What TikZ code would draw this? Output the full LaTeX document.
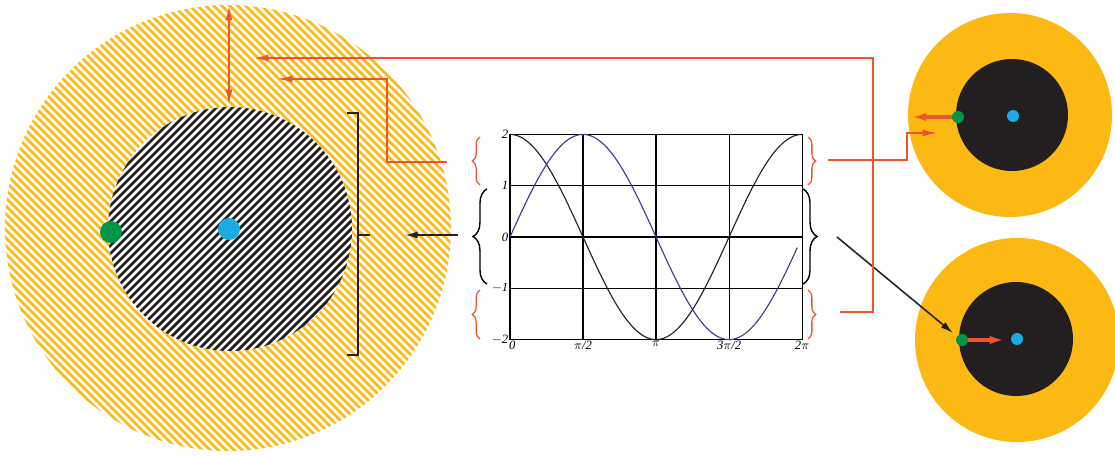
\documentclass[tikz,border=0pt]{standalone}
\usepackage{fontspec}
\setmainfont{Liberation Serif}
\usetikzlibrary{decorations, decorations.pathreplacing, arrows.meta}
\definecolor{ringyellow}{RGB}{252,184,19}
\definecolor{coreblack}{RGB}{35,31,32}
\definecolor{wirered}{RGB}{238,84,45}
\definecolor{dotblue}{RGB}{28,170,226}
\definecolor{dotgreen}{RGB}{0,150,72}
\definecolor{curveblue}{RGB}{55,60,150}
\tikzset{
    redwire/.style={wirered, line width=1.5pt, -{Latex[length=11pt,width=5pt]}},
    thickred/.style={wirered, line width=2.4pt, -{Latex[length=11pt,width=6pt]}},
    blackarrow/.style={coreblack, line width=1.1pt, -{Latex[length=9pt,width=5pt]}},
    gridline/.style={black, line width=0.8pt},
    bracered/.style={wirered, line width=0.9pt, decorate, decoration={brace, amplitude=5.5pt}},
    braceblack/.style={black, line width=1pt, decorate, decoration={brace, amplitude=10pt}},
    ticklabel/.style={font=\small\itshape, inner sep=1pt}
}
\begin{document}
\begin{tikzpicture}[x=0.025cm, y=-0.025cm]
    \useasboundingbox (0,0) rectangle (1115,455);

    % big striped disc
    \begin{scope}
        \clip (228,228) circle (223);
        \foreach \d in {-336,-328,...,336}
            \draw[ringyellow, line width=2pt] (\d-12,-12) -- (\d+468,468);
    \end{scope}
    \fill[white] (230,229) circle (122);
    \begin{scope}
        \clip (230,229) circle (122);
        \foreach \d in {-184,-176,...,184}
            \draw[coreblack, line width=2pt] (\d+100,360) -- (\d+360,100);
    \end{scope}
    \fill[dotgreen] (111,232) circle (11);
    \fill[dotblue] (229,229) circle (11);
    \coordinate (bigTop) at (229,5);
    \coordinate (coreTop) at (229,105);
    \draw[wirered, line width=1.5pt, {Latex[length=11pt,width=5pt]}-{Latex[length=11pt,width=5pt]}] (bigTop) -- (coreTop);
    \coordinate (ringA) at (253,58);
    \coordinate (ringB) at (277,79);

    % bracket beside the disc
    \draw[coreblack, line width=1pt] (347,113) -- (358,113) -- (358,355) -- (347,355);
    \draw[coreblack, line width=1pt] (358,235) -- (370,235);
    \coordinate (bracketTip) at (405,235);

    % the plot
    \begin{scope}[shift={(510,237)}, x=1.1618cm, y=1.2825cm]
        \draw[gridline] (0,-2) rectangle (2*pi,2);
        \foreach \i in {1,2,3}
            \draw[gridline] (\i*pi/2,-2) -- (\i*pi/2,2);
        \foreach \j in {-1,0,1}
            \draw[gridline] (0,\j) -- (2*pi,\j);
        \draw[coreblack, line width=0.8pt] plot[domain=0:2*pi, samples=90] (\x, {2*cos(\x r)});
        \draw[curveblue, line width=0.8pt] plot[domain=0:6.18, samples=90] (\x, {2*sin(\x r)});
        \foreach \v/\t in {2/2, 1/1, 0/0, -1/$-$1, -2/$-$2}
            \node[ticklabel, anchor=east] at (0,\v) {\t};
        \node[ticklabel, anchor=north] at (0.05,-2) {0};
        \node[ticklabel, anchor=north] at (pi/2,-2) {$\pi$/2};
        \node[ticklabel, anchor=north] at (pi,-2) {$\pi$};
        \node[ticklabel, anchor=north] at (3*pi/2,-2) {3$\pi$/2};
        \node[ticklabel, anchor=north] at (2*pi,-2) {2$\pi$};
    \end{scope}

    % braces on both sides of the plot
    \draw[bracered] (480,185) -- (480,137);
    \draw[bracered] (480,339) -- (480,290);
    \draw[braceblack] (487,284) -- (487,189);
    \draw[bracered] (808,137) -- (808,185);
    \draw[bracered] (808,290) -- (808,339);
    \draw[braceblack] (803,189) -- (803,284);
    \coordinate (leftTop) at (447,162);
    \coordinate (leftMid) at (458,235);
    \coordinate (rightTop) at (828,160);
    \coordinate (rightMid) at (837,237);
    \coordinate (rightBot) at (840,312);

    % two small discs
    \fill[ringyellow] (1010,115) circle (102);
    \fill[coreblack] (1012,115) circle (56);
    \fill[ringyellow] (1017,340) circle (102);
    \fill[coreblack] (1016,339) circle (57);
    \coordinate (upRing) at (911,117);
    \coordinate (upEntry) at (938,133);
    \coordinate (lowCore) at (1005,340);
    \fill[dotblue] (1013,116) circle (6);
    \fill[dotblue] (1017,339) circle (6);

    \draw[thickred] (958,117) -- (upRing);
    \draw[thickred] (962,340) -- (lowCore);
    \fill[dotgreen] (958,117) circle (6);
    \fill[dotgreen] (962,340) circle (6);

    % connectors
    \draw[blackarrow] (leftMid) -- (bracketTip);
    \draw[blackarrow] (rightMid) -- (953,333);
    \draw[redwire] (rightBot) -| (873,58) -- (ringA);
    \draw[redwire] (leftTop) -| (387,79) -- (ringB);
    \draw[redwire] (rightTop) -| (907,133) -- (upEntry);
\end{tikzpicture}
\end{document}
